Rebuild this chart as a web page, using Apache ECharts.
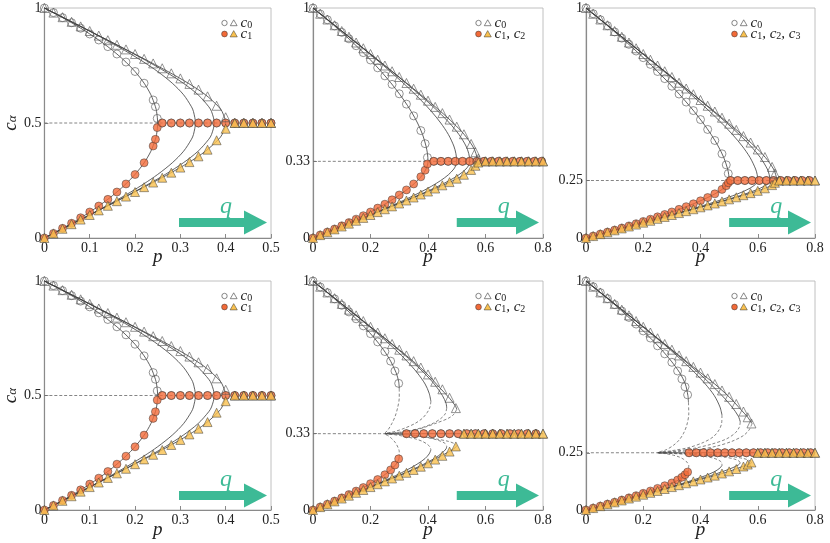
<!DOCTYPE html>
<html>
<head>
<meta charset="utf-8">
<script src="https://cdn.jsdelivr.net/npm/echarts@6/dist/echarts.min.js"></script>
<style>
  html, body { margin: 0; background: #fff; }
  #chart { width: 830px; height: 543px; }
</style>
</head>
<body>
<div id="chart"></div>
<script>
// ---- theory curves, top row: c on the upper branch / lower branch, p for q = 2..5
const k2Up = [1, 0.9796, 0.9583, 0.9359, 0.9123, 0.8873, 0.8606, 0.8317, 0.8, 0.7646, 0.7236, 0.6732, 0.6225, 0.5707, 0.55, 0.5];
const k2Lo = [0, 0.0204, 0.0417, 0.0641, 0.0877, 0.1127, 0.1394, 0.1683, 0.2, 0.2354, 0.2764, 0.3268, 0.3775, 0.4293, 0.45, 0.5];
const k2Pq2 = [0, 0.02, 0.04, 0.06, 0.08, 0.1, 0.12, 0.14, 0.16, 0.18, 0.2, 0.22, 0.235, 0.245, 0.2475, 0.25];
const k2Pq3 = [0, 0.0204, 0.0417, 0.0638, 0.087, 0.1111, 0.1364, 0.1628, 0.1905, 0.2195, 0.25, 0.2821, 0.3072, 0.3245, 0.3289, 0.3333];
const k2Pq4 = [0, 0.0204, 0.0417, 0.0641, 0.0876, 0.1125, 0.1389, 0.1672, 0.1976, 0.2306, 0.2667, 0.3064, 0.3392, 0.3627, 0.3688, 0.375];
const k2Pq5 = [0, 0.0204, 0.0417, 0.0641, 0.0877, 0.1127, 0.1394, 0.1681, 0.1994, 0.234, 0.2727, 0.3172, 0.3556, 0.3844, 0.3921, 0.4];

const k3Up = [1, 0.95, 0.9, 0.85, 0.8, 0.75, 0.7, 0.65, 0.6, 0.55, 0.5, 0.45, 0.4, 0.3667, 0.3333];
const k3Lo = [0, 0.025, 0.05, 0.075, 0.1, 0.125, 0.15, 0.175, 0.2, 0.225, 0.25, 0.275, 0.3, 0.3167, 0.3333];
const k3Pq2 = [0, 0.0488, 0.095, 0.1387, 0.1798, 0.2182, 0.2538, 0.2864, 0.3158, 0.3417, 0.3636, 0.3811, 0.393, 0.3981, 0.4];
const k3Pq3 = [0, 0.05, 0.0997, 0.149, 0.1975, 0.2449, 0.2907, 0.3343, 0.375, 0.4121, 0.4444, 0.4709, 0.4898, 0.4971, 0.5];
const k3Pq4 = [0, 0.05, 0.1, 0.1499, 0.1997, 0.2492, 0.298, 0.3458, 0.392, 0.4354, 0.4746, 0.5077, 0.5321, 0.5418, 0.5455];
const k3Pq5 = [0, 0.05, 0.1, 0.15, 0.2, 0.2499, 0.2996, 0.3489, 0.3974, 0.4441, 0.4878, 0.526, 0.555, 0.5671, 0.5714];

const k4Up = [1, 0.95, 0.9, 0.85, 0.8, 0.75, 0.7, 0.65, 0.6, 0.55, 0.5, 0.45, 0.4, 0.35, 0.3, 0.275, 0.25];
const k4Lo = [0, 0.0167, 0.0333, 0.05, 0.0667, 0.0833, 0.1, 0.1167, 0.1333, 0.15, 0.1667, 0.1833, 0.2, 0.2167, 0.2333, 0.2417, 0.25];
const k4Pq2 = [0, 0.0492, 0.0967, 0.1425, 0.1865, 0.2288, 0.2692, 0.3077, 0.3439, 0.3779, 0.4091, 0.4372, 0.4615, 0.4812, 0.4948, 0.4986, 0.5];
const k4Pq3 = [0, 0.05, 0.0999, 0.1496, 0.1989, 0.2477, 0.2958, 0.3428, 0.3885, 0.4323, 0.4737, 0.5118, 0.5455, 0.5731, 0.5925, 0.5981, 0.6];
const k4Pq4 = [0, 0.05, 0.1, 0.15, 0.1999, 0.2497, 0.2994, 0.3487, 0.3975, 0.4453, 0.4916, 0.5354, 0.5753, 0.6091, 0.6333, 0.6401, 0.6429];
const k4Pq5 = [0, 0.05, 0.1, 0.15, 0.2, 0.25, 0.2999, 0.3498, 0.3994, 0.4487, 0.4972, 0.5442, 0.5882, 0.6268, 0.6551, 0.6628, 0.6667];

// ---- theory curves, bottom row: stable upper / stable lower / unstable (dashed) branch as [p, c]
const b3q2Up = [[0,1],[0.049,0.95],[0.095,0.9],[0.138,0.85],[0.178,0.8],[0.214,0.75],[0.245,0.7],[0.27,0.65],[0.289,0.6],[0.298,0.56],[0.3,0.53]];
const b3q2Lo = [[0,0],[0.049,0.025],[0.095,0.05],[0.138,0.075],[0.178,0.1],[0.214,0.125],[0.245,0.15],[0.27,0.175],[0.289,0.2],[0.298,0.22],[0.3,0.235]];
const b3q2Un = [[0.3,0.53],[0.3,0.49],[0.295,0.45],[0.286,0.41],[0.274,0.377],[0.262,0.352],[0.25,0.3333],[0.262,0.324],[0.274,0.3115],[0.286,0.295],[0.295,0.275],[0.3,0.255],[0.3,0.235]];
const b3q3Up = [[0,1],[0.05,0.95],[0.1,0.9],[0.149,0.85],[0.197,0.8],[0.243,0.75],[0.287,0.7],[0.327,0.65],[0.362,0.6],[0.39,0.55],[0.404,0.51],[0.41,0.475]];
const b3q3Lo = [[0,0],[0.05,0.025],[0.1,0.05],[0.149,0.075],[0.197,0.1],[0.243,0.125],[0.287,0.15],[0.327,0.175],[0.362,0.2],[0.39,0.225],[0.404,0.245],[0.41,0.2625]];
const b3q3Un = [[0.41,0.475],[0.407,0.45],[0.397,0.425],[0.38,0.4],[0.355,0.378],[0.32,0.358],[0.285,0.343],[0.25,0.3333],[0.285,0.3285],[0.32,0.321],[0.355,0.311],[0.38,0.3],[0.397,0.2875],[0.407,0.275],[0.41,0.2625]];
const b3q4Up = [[0,1],[0.05,0.95],[0.1,0.9],[0.15,0.85],[0.2,0.8],[0.249,0.75],[0.297,0.7],[0.343,0.65],[0.385,0.6],[0.422,0.55],[0.45,0.5],[0.463,0.465],[0.465,0.445]];
const b3q4Lo = [[0,0],[0.05,0.025],[0.1,0.05],[0.15,0.075],[0.2,0.1],[0.249,0.125],[0.297,0.15],[0.343,0.175],[0.385,0.2],[0.422,0.225],[0.45,0.25],[0.463,0.2675],[0.465,0.2775]];
const b3q4Un = [[0.465,0.445],[0.46,0.42],[0.445,0.4],[0.42,0.38],[0.38,0.36],[0.33,0.345],[0.29,0.338],[0.25,0.3333],[0.29,0.331],[0.33,0.3275],[0.38,0.32],[0.42,0.31],[0.445,0.3],[0.46,0.29],[0.465,0.2775]];
const b3q5Up = [[0,1],[0.05,0.95],[0.1,0.9],[0.15,0.85],[0.2,0.8],[0.25,0.75],[0.3,0.7],[0.35,0.648],[0.4,0.59],[0.44,0.535],[0.475,0.488],[0.495,0.455],[0.5,0.44]];
const b3q5Lo = [[0,0],[0.05,0.025],[0.1,0.05],[0.15,0.075],[0.2,0.1],[0.25,0.125],[0.3,0.15],[0.35,0.176],[0.4,0.205],[0.44,0.2325],[0.475,0.256],[0.495,0.2725],[0.5,0.28]];
const b3q5Un = [[0.5,0.44],[0.49,0.418],[0.47,0.4],[0.43,0.38],[0.39,0.362],[0.35,0.347],[0.3,0.338],[0.25,0.3333],[0.3,0.331],[0.35,0.3265],[0.39,0.319],[0.43,0.31],[0.47,0.3],[0.49,0.291],[0.5,0.28]];

const b4q2Up = [[0,1],[0.049,0.95],[0.097,0.9],[0.142,0.85],[0.185,0.8],[0.226,0.75],[0.264,0.7],[0.298,0.65],[0.327,0.6],[0.347,0.55],[0.356,0.5],[0.358,0.47]];
const b4q2Lo = [[0,0],[0.049,0.0167],[0.097,0.0333],[0.142,0.05],[0.185,0.0667],[0.226,0.0833],[0.264,0.1],[0.298,0.1167],[0.327,0.1333],[0.347,0.15],[0.356,0.1667],[0.358,0.1767]];
const b4q2Un = [[0.358,0.47],[0.359,0.42],[0.352,0.37],[0.34,0.333],[0.325,0.305],[0.306,0.283],[0.28,0.263],[0.25,0.25],[0.28,0.2457],[0.306,0.239],[0.325,0.2317],[0.34,0.2223],[0.352,0.21],[0.359,0.1933],[0.358,0.1767]];
const b4q3Up = [[0,1],[0.05,0.95],[0.1,0.9],[0.15,0.85],[0.199,0.8],[0.247,0.75],[0.294,0.7],[0.338,0.65],[0.38,0.6],[0.417,0.55],[0.448,0.5],[0.468,0.45],[0.475,0.415]];
const b4q3Lo = [[0,0],[0.05,0.0167],[0.1,0.0333],[0.15,0.05],[0.199,0.0667],[0.247,0.0833],[0.294,0.1],[0.338,0.1167],[0.38,0.1333],[0.417,0.15],[0.448,0.1667],[0.468,0.1833],[0.475,0.195]];
const b4q3Un = [[0.475,0.415],[0.474,0.38],[0.465,0.35],[0.445,0.32],[0.41,0.295],[0.36,0.273],[0.3,0.259],[0.25,0.25],[0.3,0.247],[0.36,0.2423],[0.41,0.235],[0.445,0.2267],[0.465,0.2167],[0.474,0.2067],[0.475,0.195]];
const b4q4Up = [[0,1],[0.05,0.95],[0.1,0.9],[0.15,0.85],[0.2,0.8],[0.249,0.75],[0.298,0.7],[0.346,0.65],[0.392,0.6],[0.435,0.55],[0.475,0.5],[0.51,0.45],[0.532,0.41],[0.539,0.385]];
const b4q4Lo = [[0,0],[0.05,0.0167],[0.1,0.0333],[0.15,0.05],[0.2,0.0667],[0.249,0.0833],[0.298,0.1],[0.346,0.1167],[0.392,0.1333],[0.435,0.15],[0.475,0.1667],[0.51,0.1833],[0.532,0.1967],[0.539,0.205]];
const b4q4Un = [[0.539,0.385],[0.535,0.36],[0.52,0.335],[0.49,0.31],[0.44,0.288],[0.38,0.27],[0.31,0.257],[0.25,0.25],[0.31,0.2477],[0.38,0.2433],[0.44,0.2373],[0.49,0.23],[0.52,0.2217],[0.535,0.2133],[0.539,0.205]];
const b4q5Up = [[0,1],[0.05,0.95],[0.1,0.9],[0.15,0.85],[0.2,0.8],[0.25,0.75],[0.3,0.7],[0.35,0.65],[0.4,0.6],[0.45,0.55],[0.5,0.494],[0.54,0.44],[0.565,0.405],[0.58,0.377]];
const b4q5Lo = [[0,0],[0.05,0.0167],[0.1,0.0333],[0.15,0.05],[0.2,0.0667],[0.25,0.0833],[0.3,0.1],[0.35,0.1167],[0.4,0.1333],[0.45,0.15],[0.5,0.1687],[0.54,0.1867],[0.565,0.1983],[0.58,0.2077]];
const b4q5Un = [[0.58,0.377],[0.57,0.35],[0.55,0.325],[0.51,0.3],[0.46,0.28],[0.4,0.265],[0.33,0.256],[0.25,0.25],[0.33,0.248],[0.4,0.245],[0.46,0.24],[0.51,0.2333],[0.55,0.225],[0.57,0.2167],[0.58,0.2077]];

// reference lines at c = 1/K
const refK2 = [[0,0.5],[0.4,0.5]];
const refK3 = [[0,0.3333],[0.5714,0.3333]];
const refK4 = [[0,0.25],[0.6667,0.25]];
const refB3Dash = [[0,0.3333],[0.25,0.3333]];
const refB3Solid = [[0.25,0.3333],[0.8,0.3333]];
const refB4Dash = [[0,0.25],[0.25,0.25]];
const refB4Solid = [[0.25,0.25],[0.8,0.25]];

// ---- simulation markers: circles (q = 2) and triangles (q = 5)
const k2CirP  = [0,0.02,0.04,0.06,0.08,0.1,0.12,0.14,0.16,0.18,0.2,0.22,0.24,0.245,0.249,0.26,0.28,0.3,0.32,0.34,0.36,0.38,0.4,0.42,0.44,0.46,0.48,0.5];
const k2CirC0 = [1,0.98,0.958,0.936,0.912,0.887,0.861,0.832,0.8,0.765,0.724,0.673,0.6,0.571,0.52,0.5,0.5,0.5,0.5,0.5,0.5,0.5,0.5,0.5,0.5,0.5,0.5,0.5];
const k2CirC1 = [0,0.02,0.042,0.064,0.088,0.113,0.139,0.168,0.2,0.235,0.276,0.327,0.4,0.429,0.48,0.5,0.5,0.5,0.5,0.5,0.5,0.5,0.5,0.5,0.5,0.5,0.5,0.5];
const k2TriP  = [0,0.02,0.04,0.06,0.08,0.1,0.12,0.14,0.16,0.18,0.2,0.22,0.24,0.26,0.28,0.3,0.32,0.34,0.36,0.38,0.4,0.42,0.44,0.46,0.48,0.5];
const k2TriC0 = [1,0.98,0.96,0.94,0.92,0.9,0.88,0.86,0.84,0.82,0.8,0.779,0.759,0.738,0.716,0.694,0.67,0.645,0.616,0.575,0.525,0.5,0.5,0.5,0.5,0.5];
const k2TriC1 = [0,0.02,0.04,0.06,0.08,0.1,0.12,0.14,0.16,0.18,0.2,0.221,0.241,0.262,0.284,0.306,0.33,0.355,0.384,0.425,0.475,0.5,0.5,0.5,0.5,0.5];

const k3CirP  = [0,0.025,0.05,0.075,0.1,0.125,0.15,0.175,0.2,0.225,0.25,0.275,0.3,0.325,0.35,0.375,0.39,0.398,0.42,0.445,0.47,0.495,0.52,0.545,0.57,0.595,0.62,0.645,0.67,0.695,0.72,0.745,0.77,0.795];
const k3CirC0 = [1,0.974,0.949,0.922,0.894,0.866,0.836,0.806,0.774,0.74,0.705,0.668,0.627,0.582,0.531,0.467,0.41,0.35,0.3333,0.3333,0.3333,0.3333,0.3333,0.3333,0.3333,0.3333,0.3333,0.3333,0.3333,0.3333,0.3333,0.3333,0.3333,0.3333];
const k3CirC1 = [0,0.013,0.026,0.039,0.053,0.067,0.082,0.097,0.113,0.13,0.147,0.166,0.187,0.209,0.235,0.266,0.295,0.322,0.3333,0.3333,0.3333,0.3333,0.3333,0.3333,0.3333,0.3333,0.3333,0.3333,0.3333,0.3333,0.3333,0.3333,0.3333,0.3333];
const k3TriP  = [0,0.025,0.05,0.075,0.1,0.125,0.15,0.175,0.2,0.225,0.25,0.275,0.3,0.325,0.35,0.375,0.4,0.425,0.45,0.475,0.5,0.525,0.55,0.565,0.575,0.6,0.625,0.65,0.675,0.7,0.725,0.75,0.775,0.8];
const k3TriC0 = [1,0.975,0.95,0.925,0.9,0.875,0.85,0.825,0.8,0.775,0.75,0.725,0.7,0.674,0.649,0.623,0.597,0.57,0.543,0.515,0.484,0.451,0.409,0.373,0.345,0.3333,0.3333,0.3333,0.3333,0.3333,0.3333,0.3333,0.3333,0.3333];
const k3TriC1 = [0,0.0125,0.025,0.0375,0.05,0.0625,0.075,0.0875,0.1,0.1125,0.125,0.1375,0.15,0.163,0.176,0.189,0.202,0.215,0.229,0.243,0.258,0.275,0.296,0.314,0.328,0.3333,0.3333,0.3333,0.3333,0.3333,0.3333,0.3333,0.3333,0.3333];

const k4CirP  = [0,0.025,0.05,0.075,0.1,0.125,0.15,0.175,0.2,0.225,0.25,0.275,0.3,0.325,0.35,0.375,0.4,0.425,0.45,0.475,0.49,0.497,0.505,0.53,0.555,0.58,0.605,0.63,0.655,0.68,0.705,0.73,0.755,0.78];
const k4CirC0 = [1,0.975,0.949,0.923,0.896,0.869,0.842,0.813,0.784,0.755,0.724,0.693,0.66,0.626,0.591,0.554,0.515,0.472,0.424,0.366,0.318,0.28,0.25,0.25,0.25,0.25,0.25,0.25,0.25,0.25,0.25,0.25,0.25,0.25];
const k4CirC1 = [0,0.0085,0.017,0.0257,0.0345,0.0437,0.0527,0.0623,0.072,0.0817,0.092,0.1023,0.1133,0.1247,0.1363,0.1487,0.1617,0.176,0.192,0.2113,0.2273,0.24,0.25,0.25,0.25,0.25,0.25,0.25,0.25,0.25,0.25,0.25,0.25,0.25];
const k4TriP  = [0,0.025,0.05,0.075,0.1,0.125,0.15,0.175,0.2,0.225,0.25,0.275,0.3,0.325,0.35,0.375,0.4,0.425,0.45,0.475,0.5,0.525,0.55,0.575,0.6,0.625,0.65,0.66,0.675,0.7,0.725,0.75,0.775,0.8];
const k4TriC0 = [1,0.975,0.95,0.925,0.9,0.875,0.85,0.825,0.8,0.775,0.75,0.725,0.7,0.675,0.65,0.625,0.6,0.575,0.55,0.523,0.497,0.47,0.443,0.415,0.385,0.352,0.309,0.28,0.25,0.25,0.25,0.25,0.25,0.25];
const k4TriC1 = [0,0.0083,0.0167,0.025,0.0333,0.0417,0.05,0.0583,0.0667,0.075,0.0833,0.0917,0.1,0.1083,0.1167,0.125,0.1333,0.1417,0.15,0.159,0.168,0.177,0.186,0.195,0.205,0.216,0.23,0.24,0.25,0.25,0.25,0.25,0.25,0.25];

const b3CirP  = [0,0.025,0.05,0.075,0.1,0.125,0.15,0.175,0.2,0.225,0.25,0.27,0.285,0.298,0.325,0.355,0.385,0.415,0.445,0.475,0.505,0.535,0.565,0.595,0.625,0.655,0.685,0.715,0.745,0.775];
const b3CirC0 = [1,0.974,0.949,0.922,0.894,0.865,0.835,0.804,0.77,0.734,0.692,0.65,0.607,0.553,0.3333,0.3333,0.3333,0.3333,0.3333,0.3333,0.3333,0.3333,0.3333,0.3333,0.3333,0.3333,0.3333,0.3333,0.3333,0.3333];
const b3CirC1 = [0,0.013,0.0255,0.039,0.053,0.0675,0.0825,0.098,0.115,0.133,0.154,0.175,0.1965,0.2235,0.3333,0.3333,0.3333,0.3333,0.3333,0.3333,0.3333,0.3333,0.3333,0.3333,0.3333,0.3333,0.3333,0.3333,0.3333,0.3333];
const b3TriP  = [0,0.025,0.05,0.075,0.1,0.125,0.15,0.175,0.2,0.225,0.25,0.275,0.3,0.325,0.35,0.375,0.4,0.425,0.45,0.475,0.497,0.525,0.55,0.575,0.6,0.625,0.65,0.675,0.7,0.725,0.75,0.775,0.8];
const b3TriC0 = [1,0.975,0.95,0.925,0.9,0.875,0.85,0.825,0.8,0.775,0.75,0.725,0.7,0.675,0.65,0.622,0.592,0.56,0.527,0.49,0.445,0.3333,0.3333,0.3333,0.3333,0.3333,0.3333,0.3333,0.3333,0.3333,0.3333,0.3333,0.3333];
const b3TriC1 = [0,0.0125,0.025,0.0375,0.05,0.0625,0.075,0.0875,0.1,0.1125,0.125,0.1375,0.15,0.1625,0.175,0.189,0.204,0.22,0.2365,0.255,0.2775,0.3333,0.3333,0.3333,0.3333,0.3333,0.3333,0.3333,0.3333,0.3333,0.3333,0.3333,0.3333];

const b4CirP  = [0,0.025,0.05,0.075,0.1,0.125,0.15,0.175,0.2,0.225,0.25,0.275,0.3,0.32,0.335,0.346,0.355,0.36,0.385,0.41,0.435,0.46,0.485,0.51,0.535,0.56,0.585,0.61,0.635,0.66,0.685,0.71,0.735,0.76,0.785];
const b4CirC0 = [1,0.975,0.949,0.923,0.897,0.869,0.841,0.812,0.782,0.751,0.717,0.682,0.645,0.607,0.572,0.538,0.503,0.25,0.25,0.25,0.25,0.25,0.25,0.25,0.25,0.25,0.25,0.25,0.25,0.25,0.25,0.25,0.25,0.25,0.25];
const b4CirC1 = [0,0.0083,0.017,0.0257,0.0343,0.0437,0.053,0.0627,0.0727,0.083,0.0943,0.106,0.1183,0.131,0.1427,0.154,0.1657,0.25,0.25,0.25,0.25,0.25,0.25,0.25,0.25,0.25,0.25,0.25,0.25,0.25,0.25,0.25,0.25,0.25,0.25];
const b4TriP  = [0,0.025,0.05,0.075,0.1,0.125,0.15,0.175,0.2,0.225,0.25,0.275,0.3,0.325,0.35,0.375,0.4,0.425,0.45,0.475,0.5,0.525,0.55,0.565,0.578,0.6,0.625,0.65,0.675,0.7,0.725,0.75,0.775,0.8];
const b4TriC0 = [1,0.975,0.95,0.925,0.9,0.875,0.85,0.825,0.8,0.775,0.75,0.725,0.7,0.675,0.65,0.625,0.6,0.575,0.55,0.522,0.494,0.463,0.43,0.405,0.378,0.25,0.25,0.25,0.25,0.25,0.25,0.25,0.25,0.25];
const b4TriC1 = [0,0.0083,0.0167,0.025,0.0333,0.0417,0.05,0.0583,0.0667,0.075,0.0833,0.0917,0.1,0.1083,0.1167,0.125,0.1333,0.1417,0.15,0.1593,0.1687,0.179,0.19,0.1983,0.2073,0.25,0.25,0.25,0.25,0.25,0.25,0.25,0.25,0.25];

// ---- layout
const TEAL = '#3dba96', ORANGE = '#f26a38', YELLOW = '#f9c14f';
const SERIF = 'Liberation Serif';
const grids = [
  { left: 41, top: 8, width: 230, height: 230 },
  { left: 313, top: 8, width: 230, height: 230 },
  { left: 586, top: 8, width: 229, height: 230 },
  { left: 41, top: 281, width: 230, height: 229 },
  { left: 313, top: 281, width: 230, height: 229 },
  { left: 586, top: 281, width: 229, height: 229 }
];
const xMax = [0.5, 0.8, 0.8, 0.5, 0.8, 0.8];
const yTicks = [[0, 0.5, 1], [0, 1 / 3, 1], [0, 0.25, 1], [0, 0.5, 1], [0, 1 / 3, 1], [0, 0.25, 1]];

const zip = (ps, cs) => ps.map((p, i) => [p, cs[i]]);
// upper branch then lower branch back to the origin, as one path
const branch = (ps, up, lo) => zip(ps, up).concat(zip(ps, lo).reverse().slice(1));

function thin(gi, data, dashed) {
  return {
    type: 'line', xAxisIndex: gi, yAxisIndex: gi, data: data, symbol: 'none',
    smooth: 0.3, clip: false, silent: true, z: 2,
    lineStyle: { color: dashed ? '#666' : '#3a3a3a', width: 0.8, type: dashed ? [3, 2] : 'solid' }
  };
}
function marks(gi, data, kind) {
  const st = {
    openC: ['circle', 8, { color: 'rgba(255,255,255,0)', borderColor: '#555', borderWidth: 0.8 }, 3],
    fillC: ['circle', 8, { color: ORANGE, borderColor: '#333', borderWidth: 0.6 }, 4],
    openT: ['triangle', 9, { color: 'rgba(255,255,255,0)', borderColor: '#555', borderWidth: 0.8 }, 5],
    fillT: ['triangle', 9, { color: YELLOW, borderColor: '#333', borderWidth: 0.6 }, 6]
  }[kind];
  return {
    type: 'scatter', xAxisIndex: gi, yAxisIndex: gi, data: data, symbol: st[0],
    symbolSize: st[1], itemStyle: st[2], z: st[3], clip: false, silent: true
  };
}

const series = [];
function addMarkers(gi, cP, c0, c1, tP, t0, t1) {
  series.push(marks(gi, zip(cP, c0), 'openC'), marks(gi, zip(cP, c1), 'fillC'),
              marks(gi, zip(tP, t0), 'openT'), marks(gi, zip(tP, t1), 'fillT'));
}

// top row + bottom-left (K = 2 appears twice)
[0, 3].forEach(gi => {
  [k2Pq2, k2Pq3, k2Pq4, k2Pq5].forEach(ps => series.push(thin(gi, branch(ps, k2Up, k2Lo), false)));
  series.push(thin(gi, refK2, true));
  addMarkers(gi, k2CirP, k2CirC0, k2CirC1, k2TriP, k2TriC0, k2TriC1);
});
[k3Pq2, k3Pq3, k3Pq4, k3Pq5].forEach(ps => series.push(thin(1, branch(ps, k3Up, k3Lo), false)));
series.push(thin(1, refK3, true));
addMarkers(1, k3CirP, k3CirC0, k3CirC1, k3TriP, k3TriC0, k3TriC1);
[k4Pq2, k4Pq3, k4Pq4, k4Pq5].forEach(ps => series.push(thin(2, branch(ps, k4Up, k4Lo), false)));
series.push(thin(2, refK4, true));
addMarkers(2, k4CirP, k4CirC0, k4CirC1, k4TriP, k4TriC0, k4TriC1);

// bottom row, K = 3 and K = 4
[[b3q2Up, b3q2Lo, b3q2Un], [b3q3Up, b3q3Lo, b3q3Un], [b3q4Up, b3q4Lo, b3q4Un], [b3q5Up, b3q5Lo, b3q5Un]]
  .forEach(c => series.push(thin(4, c[0], false), thin(4, c[1], false), thin(4, c[2], true)));
series.push(thin(4, refB3Dash, true), thin(4, refB3Solid, false));
addMarkers(4, b3CirP, b3CirC0, b3CirC1, b3TriP, b3TriC0, b3TriC1);
[[b4q2Up, b4q2Lo, b4q2Un], [b4q3Up, b4q3Lo, b4q3Un], [b4q4Up, b4q4Lo, b4q4Un], [b4q5Up, b4q5Lo, b4q5Un]]
  .forEach(c => series.push(thin(5, c[0], false), thin(5, c[1], false), thin(5, c[2], true)));
series.push(thin(5, refB4Dash, true), thin(5, refB4Solid, false));
addMarkers(5, b4CirP, b4CirC0, b4CirC1, b4TriP, b4TriC0, b4TriC1);

const axisLineStyle = { color: '#8a8a8a', width: 1.2 };
const xAxis = grids.map((g, i) => ({
  gridIndex: i, type: 'value', min: 0, max: xMax[i], interval: xMax[i] === 0.5 ? 0.1 : 0.2,
  name: 'p', nameLocation: 'middle', nameGap: i < 3 ? 9 : 10, nameMoveOverlap: false,
  nameTextStyle: { fontFamily: SERIF, fontStyle: 'italic', fontSize: 19, color: '#222' },
  axisLine: { lineStyle: axisLineStyle },
  axisTick: { inside: true, length: 4, lineStyle: { color: '#8a8a8a' } },
  axisLabel: { fontFamily: SERIF, fontSize: 14, color: '#222', margin: 3 },
  splitLine: { show: false }
}));
const yAxis = grids.map((g, i) => ({
  gridIndex: i, type: 'value', min: 0, max: 1,
  name: i % 3 === 0 ? '{c|c}{s|α}' : '', nameLocation: 'middle', nameGap: 24, nameRotate: 90,
  nameTextStyle: {
    rich: {
      c: { fontFamily: SERIF, fontStyle: 'italic', fontSize: 19, color: '#222', lineHeight: 18 },
      s: { fontFamily: SERIF, fontStyle: 'italic', fontSize: 13, color: '#222', lineHeight: 12, verticalAlign: 'bottom' }
    }
  },
  axisLine: { lineStyle: axisLineStyle },
  axisTick: { inside: true, length: 4, lineStyle: { color: '#8a8a8a' }, customValues: yTicks[i] },
  axisLabel: {
    fontFamily: SERIF, fontSize: 14, color: '#222', margin: 3, customValues: yTicks[i],
    formatter: v => Math.abs(v - 1 / 3) < 1e-6 ? '0.33' : String(v)
  },
  splitLine: { show: false }
}));

// arrows, q labels and the two-row legends
const graphic = [];
const legendDx = [181, 163, 146];
const legendRow2 = ['{c|c}{s|1}', '{c|c}{s|1}{c|, c}{s|2}', '{c|c}{s|1}{c|, c}{s|2}{c|, c}{s|3}'];
const legRich = {
  c: { fontFamily: SERIF, fontStyle: 'italic', fontSize: 15, fill: '#222', lineHeight: 14 },
  s: { fontFamily: SERIF, fontSize: 10, fill: '#222', lineHeight: 9, verticalAlign: 'bottom' }
};
grids.forEach((g, i) => {
  const x0 = g.left + g.width * (xMax[i] === 0.5 ? 0.6 : 0.625);
  const x1 = g.left + g.width - 4;
  const yc = g.top + 214.5;
  graphic.push(
    { type: 'rect', shape: { x: x0, y: yc - 4.5, width: x1 - x0 - 21, height: 9 }, style: { fill: TEAL } },
    { type: 'polygon', shape: { points: [[x1 - 23, yc - 12], [x1, yc], [x1 - 23, yc + 12]] }, style: { fill: TEAL } },
    { type: 'text', x: x0 + 47, y: g.top + 199,
      style: { text: 'q', fill: TEAL, font: 'italic 24px "Liberation Serif"', align: 'center', verticalAlign: 'middle' } }
  );
  const lx = g.left + legendDx[i % 3];
  const r1 = g.top + 15, r2 = g.top + 26;
  graphic.push(
    { type: 'circle', shape: { cx: lx + 2.5, cy: r1, r: 2.7 }, style: { fill: 'none', stroke: '#555', lineWidth: 0.7 } },
    { type: 'polygon', shape: { points: [[lx + 8.3, r1 + 2.7], [lx + 11.7, r1 - 3.2], [lx + 15.1, r1 + 2.7]] }, style: { fill: 'none', stroke: '#555', lineWidth: 0.7 } },
    { type: 'circle', shape: { cx: lx + 2.5, cy: r2, r: 2.9 }, style: { fill: ORANGE, stroke: '#333', lineWidth: 0.5 } },
    { type: 'polygon', shape: { points: [[lx + 8.1, r2 + 2.9], [lx + 11.7, r2 - 3.4], [lx + 15.3, r2 + 2.9]] }, style: { fill: YELLOW, stroke: '#333', lineWidth: 0.5 } },
    { type: 'text', x: lx + 18.5, y: r1, style: { text: '{c|c}{s|0}', rich: legRich, verticalAlign: 'middle' } },
    { type: 'text', x: lx + 18.5, y: r2, style: { text: legendRow2[i % 3], rich: legRich, verticalAlign: 'middle' } }
  );
});

const chart = echarts.init(document.getElementById('chart'), null, { renderer: 'canvas' });
chart.setOption({
  animation: false,
  backgroundColor: '#fff',
  textStyle: { fontFamily: SERIF },
  grid: grids.map(g => Object.assign({ show: true, borderColor: '#b0b0b0', borderWidth: 0.8, containLabel: false }, g)),
  xAxis: xAxis,
  yAxis: yAxis,
  series: series,
  graphic: graphic
});
</script>
</body>
</html>
